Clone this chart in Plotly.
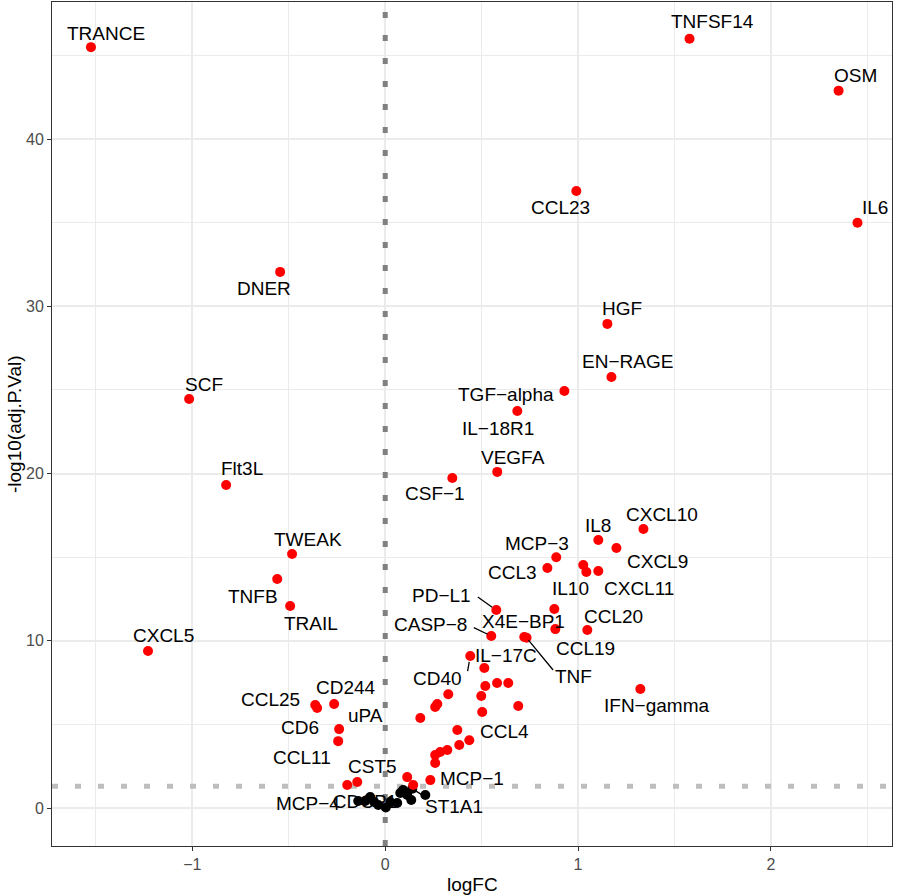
import plotly.graph_objects as go

# ---------------- data ----------------
protein = [
    "TRANCE", "TNFSF14", "OSM", "IL6", "CCL23", "DNER", "HGF", "EN-RAGE",
    "TGF-alpha", "IL-18R1", "SCF", "VEGFA", "CSF-1", "Flt3L", "CXCL10", "IL8",
    "CXCL9", "MCP-3", "CCL3", "CXCL11", "IL10", "", "", "CCL20", "CCL19",
    "PD-L1", "CASP-8", "X4E-BP1", "TNF", "CXCL5", "IL-17C", "CD40", "IFN-gamma",
    "TWEAK", "TNFB", "TRAIL", "CCL25", "", "CD244", "CD6", "CCL11", "uPA",
    "CCL4", "MCP-1", "CST5", "",
    "", "", "", "", "", "", "", "", "", "", "", "", "", "", "", "", "",
    "MCP-4", "", "", "", "", "", "CDCP1", "", "", "", "", "", "ST1A1", "",
]
logFC = [
    -1.526, 1.578, 2.351, 2.449, 0.991, -0.545, 1.152, 1.173,
    0.929, 0.685, -1.017, 0.581, 0.348, -0.825, 1.339, 1.105,
    1.199, 0.887, 0.841, 1.105, 0.877, 1.027, 1.043, 1.048, 0.882,
    0.576, 0.550, 0.721, 0.733, -1.230, 0.514, 0.441, 1.323,
    -0.483, -0.560, -0.493, -0.363, -0.353, -0.265, -0.239, -0.244, 0.182,
    0.374, 0.234, -0.197, -0.145,
    0.519, 0.638, 0.498, 0.690, 0.503, 0.327, 0.270, 0.259, 0.436, 0.114,
    0.145, 0.259, 0.285, 0.322, 0.384, 0.259, 0.580,
    -0.140, -0.104, -0.078, -0.057, -0.036, 0.003, 0.062, 0.026, 0.078,
    0.093, 0.114, 0.135, 0.140, 0.208,
]
neg_log10_adj_p = [
    45.5, 46.0, 42.9, 35.0, 36.9, 32.06, 28.95, 25.78,
    24.94, 23.74, 24.46, 20.1, 19.74, 19.32, 16.69, 16.03,
    15.55, 15.0, 14.35, 14.17, 11.9, 14.53, 14.11, 10.65, 10.7,
    11.84, 10.29, 10.23, 10.18, 9.39, 8.37, 9.09, 7.12,
    15.19, 13.7, 12.08, 6.16, 5.98, 6.22, 4.72, 4.0, 5.38,
    4.67, 1.67, 1.38, 1.56,
    7.3, 7.48, 6.7, 6.1, 5.74, 6.8, 6.22, 6.04, 4.05, 1.85,
    1.38, 3.17, 3.35, 3.47, 3.77, 2.69, 7.48,
    0.42, 0.42, 0.66, 0.36, 0.18, 0.03, 0.30, 0.36, 0.90,
    1.08, 0.78, 0.48, 1.15, 0.78,
]
p_cut = 1.301  # -log10(0.05)

x_range = [-1.728, 2.628]
y_range = [-2.27, 48.2]

# ---------------- label placement (pixel offsets from the point) ----------------
label_offset = {
    "TRANCE": (15, -14), "TNFSF14": (23, -17), "OSM": (17, -15), "IL6": (18, -15),
    "CCL23": (-16, 17), "DNER": (-16, 17), "HGF": (15, -15), "EN-RAGE": (16, -15),
    "TGF-alpha": (-58, 4), "IL-18R1": (-19, 17), "SCF": (15, -15), "VEGFA": (16, -14),
    "CSF-1": (-17, 16), "Flt3L": (16, -16), "CXCL10": (19, -14), "IL8": (0, -14),
    "CXCL9": (41, 13), "MCP-3": (-19, -14), "CCL3": (-35, 4), "CXCL11": (41, 17),
    "IL10": (16, -21), "CCL20": (26, -13), "CCL19": (30, 19),
    "PD-L1": (-55, -15), "CASP-8": (-61, -11), "X4E-BP1": (-1, -15), "TNF": (47, 39),
    "CXCL5": (15, -16), "IL-17C": (22, -13), "CD40": (-33, 22), "IFN-gamma": (16, 17),
    "TWEAK": (16, -15), "TNFB": (-24, 18), "TRAIL": (21, 17), "CCL25": (-45, -6),
    "CD244": (12, -17), "CD6": (-39, -2), "CCL11": (-36, 16), "uPA": (-55, -3),
    "CCL4": (47, 2), "MCP-1": (42, -2), "CST5": (25, -18), "MCP-4": (-50, 2),
    "ST1A1": (42, 18),
}
# leader segments: far end offset (pixels from the point) and gap at the point
segment_end = {
    "PD-L1": ((-20, -14), 5), "CASP-8": ((-19, -9), 4), "CD40": ((-3, 17), 6),
    "TNF": ((28, 34), 3), "ST1A1": ((13, 8), 4),
}
hidden_labels = {"CDCP1"}

FONT = "Liberation Sans, Arial, Helvetica, sans-serif"
RED = "#FF0000"

sig_x = [x for x, y in zip(logFC, neg_log10_adj_p) if y > p_cut]
sig_y = [y for y in neg_log10_adj_p if y > p_cut]
ns_x = [x for x, y in zip(logFC, neg_log10_adj_p) if y <= p_cut]
ns_y = [y for y in neg_log10_adj_p if y <= p_cut]

fig = go.Figure()

# threshold lines (drawn first, under the points)
fig.add_trace(go.Scatter(x=[0, 0], y=y_range, mode="lines", hoverinfo="skip",
                         line=dict(color="#808080", width=5, dash="6px,17px"),
                         showlegend=False))
fig.add_trace(go.Scatter(x=x_range, y=[p_cut, p_cut], mode="lines", hoverinfo="skip",
                         line=dict(color="#BEBEBE", width=5, dash="6px,17px"),
                         showlegend=False))

# label drawn underneath the points (overplotted in the original)
for name, x, y in zip(protein, logFC, neg_log10_adj_p):
    if name in hidden_labels:
        fig.add_trace(go.Scatter(
            x=[x], y=[y], mode="text", text=[name.replace("-", "\u2212")],
            textposition="middle left", textfont=dict(family=FONT, size=19, color="black"),
            hoverinfo="skip", showlegend=False))

fig.add_trace(go.Scatter(x=ns_x, y=ns_y, mode="markers",
                         marker=dict(color="black", size=10, line=dict(width=0)),
                         showlegend=False))
fig.add_trace(go.Scatter(x=sig_x, y=sig_y, mode="markers",
                         marker=dict(color=RED, size=10, line=dict(width=0)),
                         showlegend=False))

for name, x, y in zip(protein, logFC, neg_log10_adj_p):
    if not name or name not in label_offset:
        continue
    ax, ay = label_offset[name]
    fig.add_annotation(
        x=x, y=y, xref="x", yref="y", ax=ax, ay=ay, axref="pixel", ayref="pixel",
        text=name.replace("-", "\u2212"), showarrow=True, arrowhead=0,
        arrowwidth=0.1, arrowcolor="rgba(0,0,0,0)",
        font=dict(family=FONT, size=19, color="black"),
    )
    if name in segment_end:
        (sx, sy), gap = segment_end[name]
        fig.add_annotation(
            x=x, y=y, xref="x", yref="y", ax=sx, ay=sy, axref="pixel", ayref="pixel",
            text=" ", font=dict(size=1), showarrow=True, arrowhead=0,
            arrowwidth=1.3, arrowcolor="black", standoff=gap,
        )

# axis titles
fig.add_annotation(text="logFC", xref="paper", yref="paper", x=0.5, y=0,
                   xanchor="center", yanchor="top", yshift=-26, showarrow=False,
                   font=dict(family=FONT, size=19, color="black"))
fig.add_annotation(text="-log10(adj.P.Val)", xref="paper", yref="paper",
                   x=-38 / 840, y=0.5, xanchor="center", yanchor="middle",
                   textangle=-90, showarrow=False,
                   font=dict(family=FONT, size=19, color="black"))

axis_common = dict(
    showline=True, mirror=True, linecolor="#333333", linewidth=1,
    ticks="outside", ticklen=4, tickcolor="#333333", tickwidth=1,
    showgrid=True, gridcolor="#EBEBEB", gridwidth=1.6, zeroline=False,
    tickfont=dict(family=FONT, size=16, color="#4D4D4D"),
)
fig.update_xaxes(range=x_range, tickvals=[-1, 0, 1, 2],
                 minor=dict(tickvals=[-1.5, -0.5, 0.5, 1.5, 2.5], showgrid=True,
                            gridcolor="#EBEBEB", gridwidth=0.8, ticks=""),
                 **axis_common)
fig.update_yaxes(range=y_range, tickvals=[0, 10, 20, 30, 40],
                 minor=dict(tickvals=[5, 15, 25, 35, 45], showgrid=True,
                            gridcolor="#EBEBEB", gridwidth=0.8, ticks=""),
                 **axis_common)

fig.update_layout(
    width=897, height=896,
    margin=dict(l=52, r=5, t=2, b=50, autoexpand=False),
    plot_bgcolor="white", paper_bgcolor="white",
    showlegend=False, hovermode="closest",
)

fig.write_html("out.html", config={"displayModeBar": False},
               post_script="document.body.style.margin='0';document.body.style.padding='0';")
